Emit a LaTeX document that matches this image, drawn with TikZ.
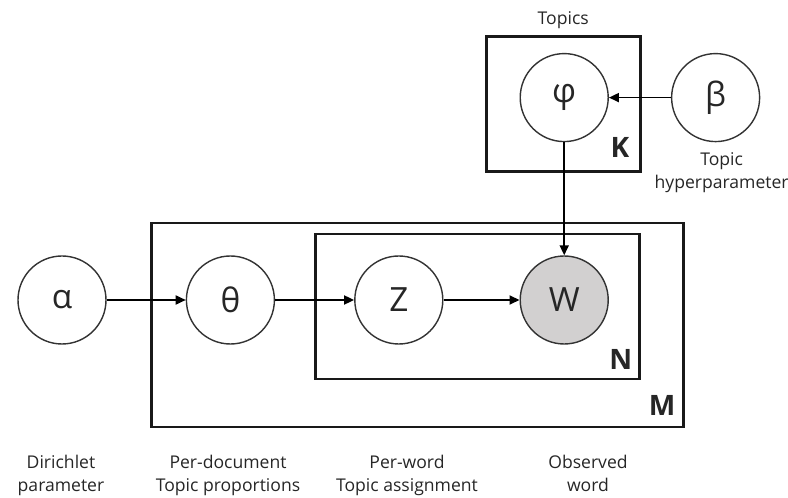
\documentclass[tikz,border=0pt]{standalone}
\usepackage{fontspec}
\setmainfont{Open Sans}
\usepackage{tikz}
\usetikzlibrary{arrows.meta,positioning,fit,calc}
\definecolor{obs}{HTML}{D2D0D0}

\begin{document}
\begin{tikzpicture}[font=\fontsize{10}{13}\selectfont,text=black!85,
  var/.style={circle,draw=black!80,line width=0.8pt,minimum size=1.76cm,inner sep=0pt,font=\fontsize{19}{22}\selectfont},
  plate/.style={draw=black!90,line width=1.6pt,inner sep=0pt},
  platelab/.style={anchor=south east,inner sep=0pt,font=\fontsize{16}{18}\selectfont\bfseries},
  caption/.style={align=center,anchor=north},
  arr/.style={-{Triangle[length=2mm,width=1.8mm]},line width=1pt}]
\useasboundingbox (0,0) rectangle (15.76,9.96);
\node[var] (alpha) at (1.24,3.96) {α};
\node[var,right=1.58cm of alpha] (theta) {θ};
\node[var,right=1.58cm of theta] (z) {Z};
\node[var,right=1.52cm of z,fill=obs] (w) {W};
\node[var,above=2.26cm of w] (phi) {φ};
\node[var,right=1.24cm of phi] (beta) {β};
\node[plate,fit={($(phi)+(-1.56,1.22)$) ($(phi)+(1.52,-1.48)$)}] (plateK) {};
\node[plate,fit={($(z)+(-1.66,1.32)$) ($(w)+(1.5,-1.58)$)}] (plateN) {};
\node[plate,fit={($(theta)+(-1.58,1.54)$) ($(w)+(2.38,-2.54)$)}] (plateM) {};
\node[platelab] (labK) at ($(plateK.south east)+(-0.24,0.3)$) {K};
\node[platelab] (labN) at ($(plateN.south east)+(-0.16,0.22)$) {N};
\node[platelab] (labM) at ($(plateM.south east)+(-0.18,0.26)$) {M};
\draw[arr] (alpha)--(theta); \draw[arr] (theta)--(z); \draw[arr] (z)--(w);
\draw[arr] (beta)--(phi); \draw[arr] (phi)--(w);
\node[above=0pt of plateK] (topics) {Topics};
\node[align=center,below=0.08cm of beta,xshift=0.12cm] (hyper) {Topic\\hyperparameter};
\node[caption] (capA) at (1.22,0.98) {Dirichlet\\parameter};
\node[caption] (capT) at (4.56,0.98) {Per-document\\Topic proportions};
\node[caption] (capZ) at (8.14,0.98) {Per-word\\Topic assignment};
\node[caption] (capW) at (11.76,0.98) {Observed\\word};
\end{tikzpicture}
\end{document}
